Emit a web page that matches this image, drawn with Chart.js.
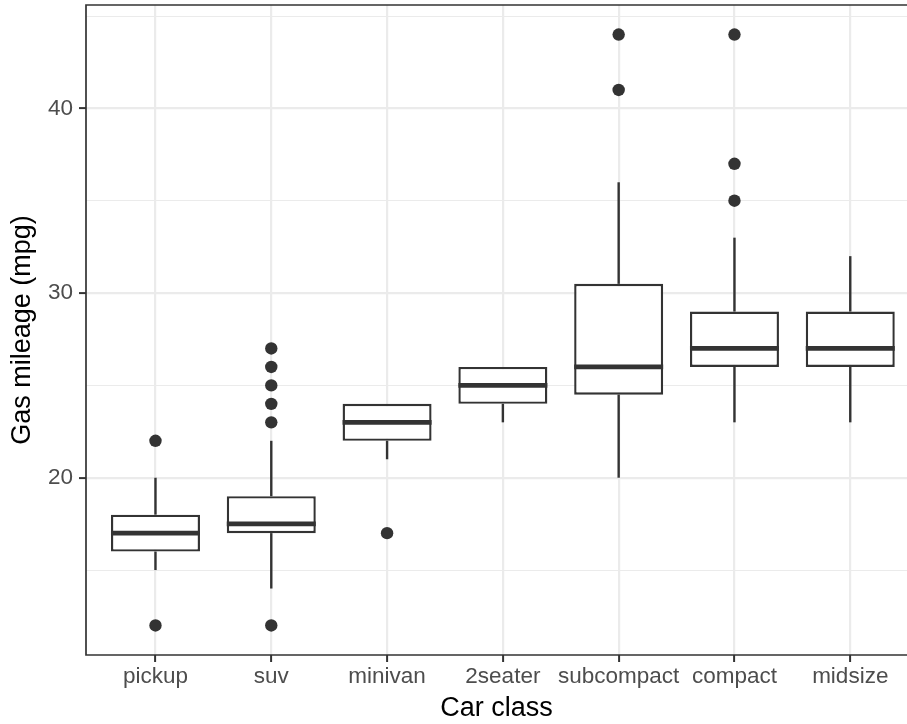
<!DOCTYPE html>
<html>
<head>
<meta charset="utf-8">
<title>Gas mileage by car class</title>
<script src="https://cdn.jsdelivr.net/npm/chart.js@4.4.0/dist/chart.umd.min.js"></script>
<style>
  html, body { margin: 0; padding: 0; background: #ffffff; overflow: hidden; }
  #wrap { width: 907px; height: 724px; }
</style>
</head>
<body>
<div id="wrap"><canvas id="mpgChart" width="907" height="724"></canvas></div>
<script>
// Highway mpg summary per class (boxplot stats), classes ordered by median
const classes = ['pickup', 'suv', 'minivan', '2seater', 'subcompact', 'compact', 'midsize'];
const lowerWhisker = [15, 14, 21, 23, 20, 23, 23];
const q1 = [16, 17, 22, 24, 24.5, 26, 26];
const medians = [17, 17.5, 23, 25, 26, 27, 27];
const q3 = [18, 19, 24, 26, 30.5, 29, 29];
const upperWhisker = [20, 22, 24, 26, 36, 33, 32];
const outliers = [[12, 22], [12, 23, 24, 25, 26, 27], [17], [], [41, 44], [35, 37, 44], []];

const yMajorTicks = [20, 30, 40];
const yMinorTicks = [15, 25, 35, 45];

const INK = '#333333';
const GRID = '#EBEBEB';
const FONT = '"Liberation Sans", Arial, Helvetica, sans-serif';
const BOX_W = 89;

const isMajor = v => yMajorTicks.includes(v);

// panel border on left, top and bottom; the right edge of the panel is cut off
const panelBorder = {
  id: 'panelBorder',
  afterDraw(chart) {
    const { ctx, chartArea: a } = chart;
    ctx.save();
    ctx.strokeStyle = INK;
    ctx.lineWidth = 1.7;
    ctx.beginPath();
    ctx.moveTo(a.right + 5, a.top);
    ctx.lineTo(a.left, a.top);
    ctx.lineTo(a.left, a.bottom);
    ctx.lineTo(a.right + 5, a.bottom);
    ctx.stroke();
    ctx.restore();
  }
};

const outlierPoints = [];
outliers.forEach((vals, i) => vals.forEach(v => outlierPoints.push({ x: i + 1, y: v })));

new Chart(document.getElementById('mpgChart'), {
  type: 'bar',
  data: {
    datasets: [
      {
        // median bar across each box
        type: 'scatter',
        data: medians.map((m, i) => ({ x: i + 1, y: m })),
        pointStyle: 'line',
        pointRadius: BOX_W / 2,
        pointBorderWidth: 4.8,
        pointBorderColor: INK,
        order: 0
      },
      {
        type: 'scatter',
        data: outlierPoints,
        pointRadius: 6.2,
        pointBackgroundColor: INK,
        pointBorderWidth: 0,
        order: 0
      },
      {
        data: classes.map((c, i) => ({ x: i + 1, y: [q1[i], q3[i]] })),
        backgroundColor: '#ffffff',
        borderColor: INK,
        borderWidth: 2.4,
        borderSkipped: false,
        barThickness: BOX_W,
        inflateAmount: 0,
        grouped: false,
        order: 1
      },
      {
        data: classes.map((c, i) => ({ x: i + 1, y: [q3[i], upperWhisker[i]] })),
        backgroundColor: INK,
        borderWidth: 0,
        barThickness: 2.4,
        inflateAmount: 0,
        grouped: false,
        order: 2
      },
      {
        data: classes.map((c, i) => ({ x: i + 1, y: [lowerWhisker[i], q1[i]] })),
        backgroundColor: INK,
        borderWidth: 0,
        barThickness: 2.4,
        inflateAmount: 0,
        grouped: false,
        order: 2
      }
    ]
  },
  options: {
    responsive: false,
    devicePixelRatio: 1,
    animation: false,
    events: [],
    layout: { autoPadding: false, padding: { top: 5, left: 0, right: 0, bottom: 0 } },
    plugins: {
      legend: { display: false },
      tooltip: { enabled: false }
    },
    scales: {
      x: {
        type: 'linear',
        min: 0.4,
        max: 7.49,
        offset: false,
        afterBuildTicks: scale => {
          scale.ticks = classes.map((c, i) => ({ value: i + 1 }));
        },
        afterFit: scale => {
          scale.height = 69;
          scale.paddingLeft = 0;
          scale.paddingRight = 0;
        },
        ticks: {
          autoSkip: false,
          maxRotation: 0,
          padding: 1,
          color: '#4D4D4D',
          font: { family: FONT, size: 22.5 },
          callback: v => classes[v - 1]
        },
        grid: {
          offset: false,
          color: GRID,
          lineWidth: 2.2,
          tickLength: 7,
          tickColor: INK,
          tickWidth: 2
        },
        border: { display: false },
        title: {
          display: true,
          text: 'Car class',
          color: '#000000',
          font: { family: FONT, size: 27, lineHeight: 1 },
          padding: { top: 0, bottom: 1.5 }
        }
      },
      y: {
        min: 10.4,
        max: 45.6,
        afterBuildTicks: scale => {
          scale.ticks = [...yMinorTicks, ...yMajorTicks]
            .sort((a, b) => a - b)
            .map(v => ({ value: v }));
        },
        afterFit: scale => {
          scale.width = 86;
          scale.paddingTop = 0;
          scale.paddingBottom = 0;
        },
        ticks: {
          padding: 6,
          color: '#4D4D4D',
          font: { family: FONT, size: 22.5 },
          callback: v => (isMajor(v) ? String(v) : '')
        },
        grid: {
          color: GRID,
          lineWidth: ctx => (ctx.tick && isMajor(ctx.tick.value) ? 2.2 : 1.1),
          tickLength: 7,
          tickColor: ctx => (ctx.tick && isMajor(ctx.tick.value) ? INK : 'rgba(0,0,0,0)'),
          tickWidth: 2
        },
        border: { display: false },
        title: {
          display: true,
          text: 'Gas mileage (mpg)',
          color: '#000000',
          font: { family: FONT, size: 27, lineHeight: 1 },
          padding: { top: 9, bottom: 0 }
        }
      }
    }
  },
  plugins: [panelBorder]
});
</script>
</body>
</html>
